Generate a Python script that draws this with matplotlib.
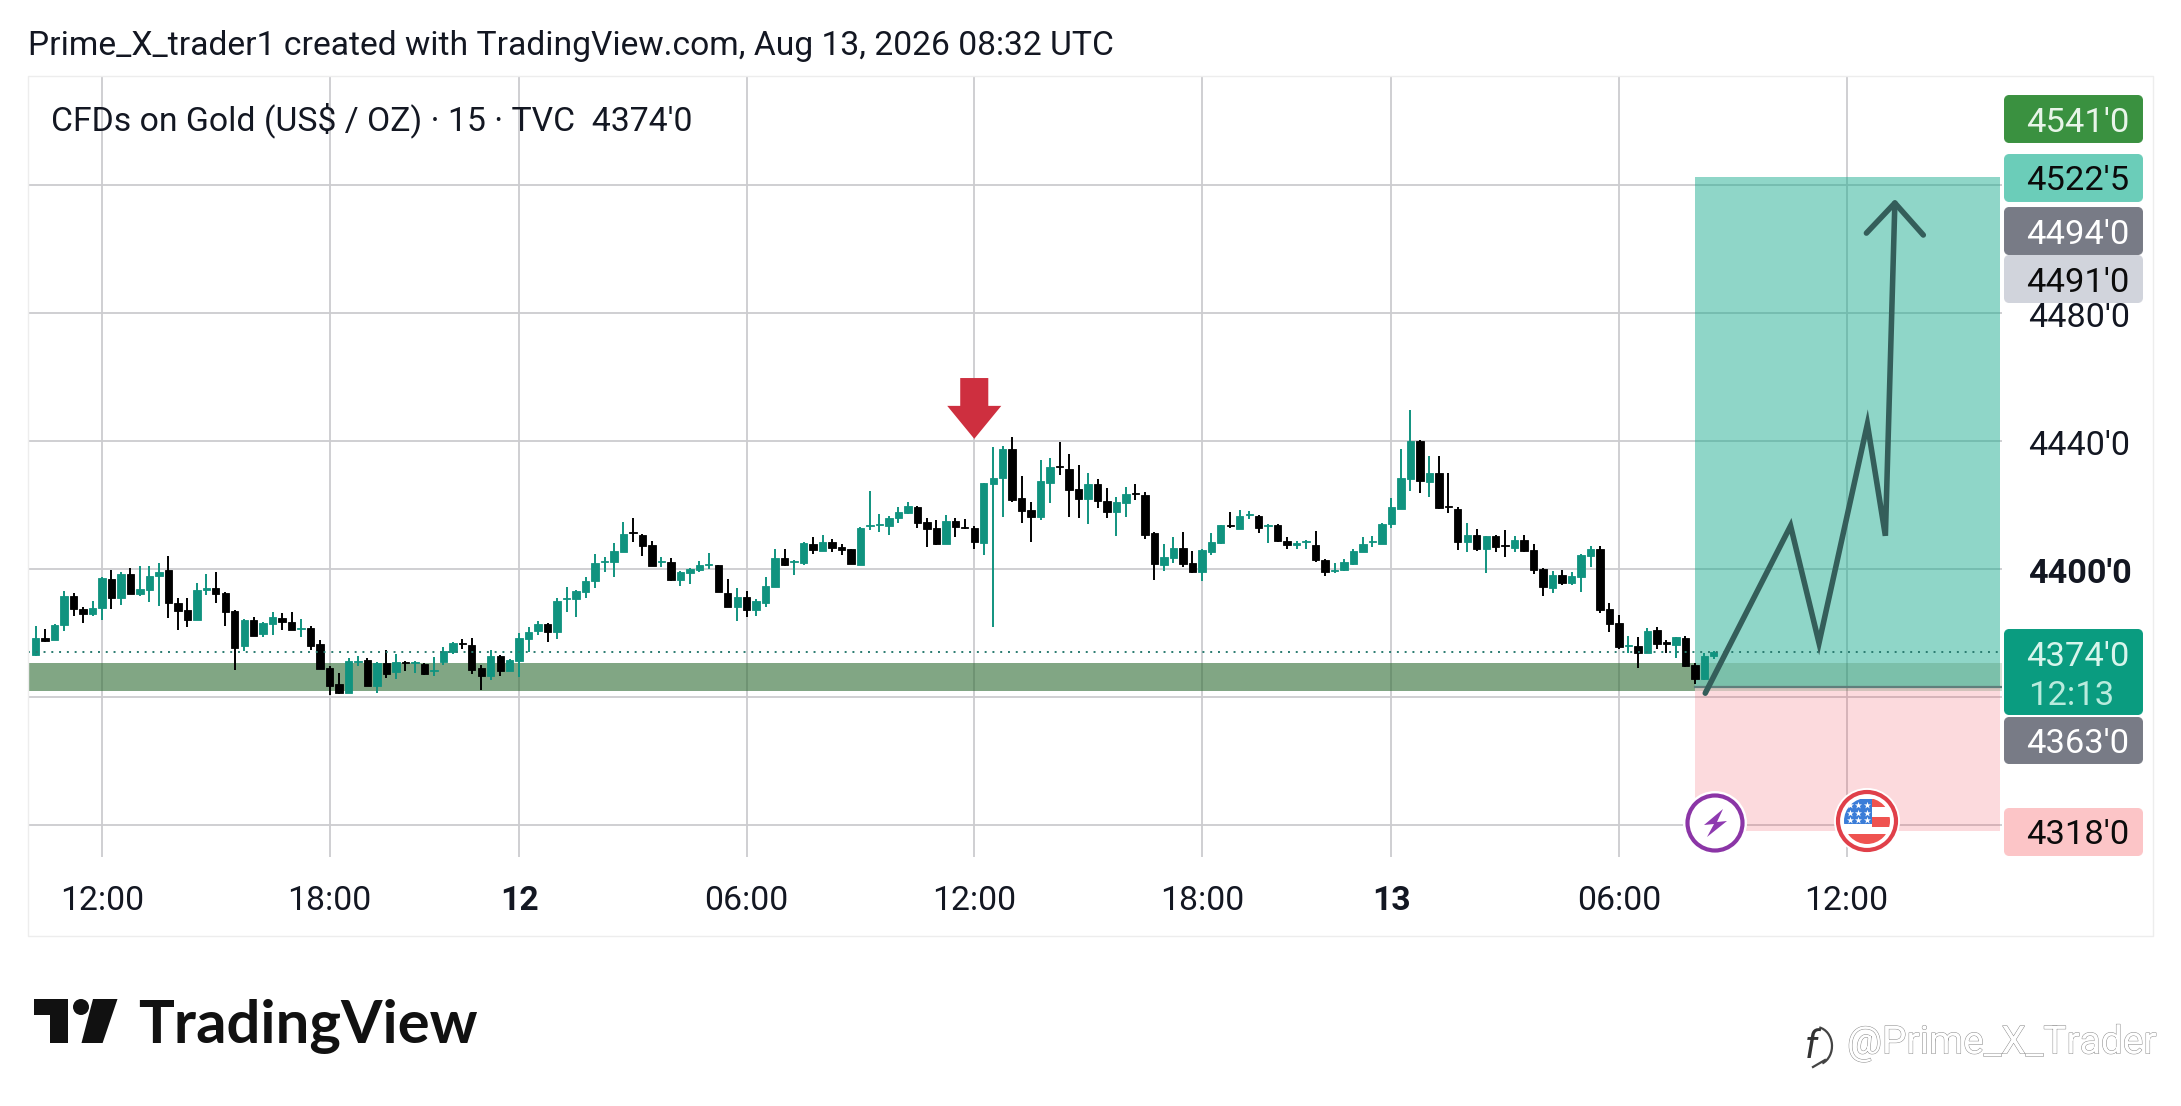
import numpy as np
import matplotlib
matplotlib.use("Agg")
import matplotlib.pyplot as plt
import matplotlib.patheffects as pe
from matplotlib.patches import Polygon, Rectangle, Circle, FancyBboxPatch, Arc
from matplotlib.transforms import ScaledTranslation

plt.rcParams['font.family'] = ['Roboto', 'DejaVu Sans']

# 15 min bars, bar 0 is 12:00 on the 11th (the daily close gap is already left out)
bar_index = np.arange(-7, 171)

opens = [
    4372.9, 4378.3, 4377.6, 4382.3, 4391.5, 4387.3, 4385.9, 4387.6, 4396.8, 4391.0,
    4398.3, 4392.2, 4393.5, 4397.6, 4399.6, 4389.3, 4387.1, 4383.9, 4393.3, 4394.0,
    4392.4, 4386.9, 4375.7, 4384.1, 4379.5, 4382.8, 4384.6, 4383.3, 4381.1, 4381.6,
    4376.5, 4369.1, 4364.0, 4361.3, 4371.0, 4371.5, 4363.5, 4370.5, 4367.6, 4370.8,
    4370.4, 4370.3, 4368.1, 4370.9, 4373.9, 4376.7, 4376.1, 4369.1, 4366.4, 4372.8,
    4367.9, 4371.2, 4378.1, 4380.6, 4382.8, 4380.3, 4390.5, 4390.4, 4392.7, 4396.2,
    4402.2, 4402.0, 4405.1, 4411.6, 4410.6, 4407.4, 4402.1, 4402.1, 4396.6, 4398.7,
    4399.5, 4401.1, 4401.2, 4392.4, 4387.9, 4391.2, 4387.0, 4389.4, 4394.4, 4403.3,
    4402.1, 4401.9, 4407.7, 4405.6, 4408.4, 4406.9, 4406.1, 4401.3, 4413.2, 4413.7,
    4413.5, 4415.7, 4417.5, 4419.4, 4414.6, 4412.8, 4407.8, 4415.0, 4413.1, 4412.8,
    4408.1, 4426.6, 4428.2, 4437.5, 4422.2, 4418.4, 4416.2, 4426.9, 4432.1, 4431.2,
    4425.0, 4421.9, 4426.6, 4421.2, 4417.8, 4420.6, 4423.6, 4423.1, 4411.1, 4401.2,
    4403.4, 4406.6, 4401.9, 4399.1, 4405.3, 4408.1, 4413.6, 4412.5, 4416.7, 4416.6,
    4413.4, 4413.7, 4408.7, 4407.5, 4408.4, 4407.5, 4402.8, 4399.3, 4399.5, 4401.6,
    4405.3, 4408.2, 4407.8, 4414.1, 4418.8, 4428.1, 4440.0, 4427.2, 4430.0, 4419.6,
    4418.8, 4408.2, 4410.6, 4406.3, 4410.3, 4407.5, 4406.5, 4409.0, 4405.9, 4400.0,
    4394.0, 4398.1, 4395.6, 4397.5, 4404.0, 4406.2, 4387.5, 4383.1, 4375.7, 4375.9,
    4373.7, 4380.9, 4377.0, 4376.2, 4378.4, 4370.0, 4365.6, 4372.8,
]
closes = [
    4378.3, 4377.3, 4382.5, 4391.5, 4387.3, 4385.9, 4387.7, 4397.0, 4391.0, 4398.4,
    4392.0, 4393.6, 4397.7, 4399.1, 4389.2, 4386.7, 4383.9, 4393.3, 4394.0, 4392.0,
    4386.4, 4375.1, 4383.9, 4379.1, 4383.0, 4385.0, 4383.2, 4381.0, 4381.5, 4376.0,
    4368.8, 4363.5, 4361.1, 4371.1, 4371.3, 4363.5, 4370.6, 4367.2, 4370.7, 4370.5,
    4370.7, 4367.2, 4368.3, 4374.3, 4376.7, 4376.4, 4368.4, 4366.4, 4372.8, 4367.9,
    4371.5, 4378.4, 4380.3, 4382.8, 4380.3, 4390.0, 4390.8, 4393.1, 4396.1, 4401.8,
    4402.5, 4405.5, 4410.9, 4411.2, 4407.0, 4400.9, 4402.4, 4396.6, 4399.1, 4400.0,
    4401.2, 4401.5, 4392.6, 4387.9, 4391.1, 4387.0, 4390.0, 4394.6, 4403.3, 4401.2,
    4402.5, 4407.9, 4405.9, 4408.3, 4406.4, 4405.7, 4401.6, 4412.8, 4413.6, 4414.1,
    4415.9, 4417.7, 4419.7, 4414.4, 4412.5, 4407.6, 4415.0, 4413.1, 4412.7, 4408.4,
    4426.9, 4428.4, 4437.5, 4421.6, 4418.1, 4416.2, 4427.5, 4431.9, 4431.7, 4424.7,
    4421.9, 4426.6, 4421.2, 4417.8, 4420.9, 4423.4, 4423.2, 4410.6, 4401.6, 4403.7,
    4406.6, 4401.6, 4399.1, 4405.9, 4408.4, 4413.7, 4413.2, 4416.4, 4417.1, 4412.8,
    4413.7, 4408.7, 4407.4, 4407.9, 4408.7, 4402.8, 4399.1, 4399.7, 4402.2, 4405.6,
    4407.8, 4408.7, 4414.1, 4419.4, 4428.4, 4440.0, 4427.5, 4430.0, 4419.1, 4419.2,
    4408.2, 4410.4, 4406.2, 4410.3, 4406.8, 4407.1, 4409.0, 4405.6, 4399.7, 4394.3,
    4398.1, 4395.6, 4397.8, 4404.3, 4406.2, 4387.2, 4382.8, 4375.6, 4376.1, 4373.7,
    4380.6, 4376.5, 4376.6, 4378.7, 4369.6, 4365.6, 4372.8, 4374.0,
]
highs = [
    4382.0, 4381.1, 4382.8, 4393.1, 4392.4, 4388.0, 4389.9, 4397.4, 4399.7, 4398.9,
    4400.2, 4400.9, 4400.9, 4401.8, 4404.1, 4390.8, 4390.8, 4395.5, 4398.4, 4399.0,
    4392.7, 4387.2, 4384.3, 4384.9, 4383.3, 4386.5, 4386.1, 4386.5, 4384.3, 4382.1,
    4377.7, 4369.7, 4367.4, 4372.0, 4372.8, 4372.1, 4370.8, 4374.6, 4373.3, 4371.1,
    4371.1, 4370.5, 4372.4, 4375.5, 4377.1, 4378.0, 4378.3, 4370.0, 4374.6, 4373.0,
    4371.8, 4379.9, 4381.8, 4383.7, 4383.1, 4390.8, 4394.4, 4393.4, 4397.4, 4404.7,
    4403.6, 4408.0, 4414.7, 4415.9, 4410.9, 4408.7, 4403.6, 4403.3, 4399.4, 4400.3,
    4402.5, 4405.0, 4401.2, 4396.9, 4394.0, 4393.1, 4390.6, 4397.5, 4406.2, 4406.2,
    4402.8, 4408.4, 4410.0, 4410.6, 4409.4, 4407.8, 4406.2, 4412.9, 4424.4, 4417.2,
    4416.6, 4419.4, 4420.9, 4419.7, 4415.9, 4415.3, 4416.9, 4415.9, 4415.6, 4413.2,
    4426.9, 4438.1, 4438.4, 4441.2, 4429.1, 4420.9, 4434.1, 4434.7, 4439.7, 4435.9,
    4432.5, 4430.0, 4428.1, 4425.3, 4422.5, 4425.6, 4426.6, 4424.1, 4411.6, 4407.8,
    4410.0, 4411.6, 4405.6, 4406.2, 4411.2, 4413.7, 4417.8, 4418.4, 4418.1, 4416.9,
    4414.1, 4414.1, 4410.0, 4408.7, 4409.1, 4411.9, 4403.1, 4401.9, 4403.1, 4406.2,
    4410.0, 4410.3, 4414.4, 4422.2, 4437.5, 4449.7, 4440.3, 4435.3, 4435.3, 4430.0,
    4419.2, 4414.3, 4412.4, 4410.3, 4410.6, 4412.2, 4410.3, 4410.6, 4407.8, 4400.2,
    4399.3, 4399.7, 4399.0, 4404.7, 4407.2, 4407.2, 4389.3, 4385.6, 4379.0, 4378.7,
    4381.5, 4381.8, 4377.8, 4378.7, 4379.0, 4370.6, 4373.7, 4374.3,
]
lows = [
    4372.6, 4377.0, 4377.6, 4380.4, 4385.1, 4382.9, 4385.1, 4383.9, 4387.5, 4388.7,
    4392.0, 4391.6, 4389.5, 4388.5, 4384.5, 4381.0, 4381.7, 4383.9, 4391.7, 4389.2,
    4382.0, 4368.5, 4374.3, 4378.9, 4378.6, 4379.2, 4381.0, 4381.0, 4378.7, 4374.5,
    4368.8, 4360.4, 4360.7, 4361.1, 4369.6, 4363.5, 4361.3, 4366.0, 4365.6, 4367.9,
    4367.4, 4366.9, 4366.4, 4369.8, 4373.3, 4374.8, 4367.0, 4362.2, 4365.2, 4366.4,
    4367.9, 4366.3, 4373.9, 4379.2, 4377.2, 4378.1, 4386.6, 4385.0, 4390.9, 4394.1,
    4399.1, 4397.5, 4405.1, 4408.4, 4404.1, 4400.9, 4400.5, 4396.2, 4394.7, 4395.3,
    4399.1, 4400.0, 4392.6, 4387.9, 4383.7, 4385.0, 4385.3, 4388.1, 4394.2, 4400.9,
    4398.1, 4401.3, 4404.7, 4405.6, 4405.3, 4404.4, 4401.6, 4401.2, 4412.2, 4411.6,
    4410.6, 4414.4, 4417.2, 4412.8, 4406.9, 4407.5, 4407.8, 4410.0, 4412.5, 4406.2,
    4404.4, 4381.9, 4416.2, 4420.9, 4414.4, 4408.4, 4415.3, 4420.6, 4429.4, 4416.2,
    4415.9, 4414.1, 4419.1, 4415.9, 4410.3, 4416.2, 4421.6, 4409.4, 4396.6, 4399.4,
    4401.9, 4400.6, 4398.7, 4396.2, 4404.4, 4407.8, 4412.8, 4412.5, 4415.6, 4411.2,
    4408.1, 4408.4, 4406.2, 4406.2, 4406.2, 4402.2, 4397.8, 4398.6, 4399.4, 4401.2,
    4405.3, 4406.9, 4407.8, 4412.8, 4418.8, 4424.4, 4423.7, 4422.5, 4418.7, 4417.5,
    4405.9, 4405.3, 4405.6, 4398.7, 4405.3, 4403.7, 4405.3, 4405.3, 4398.4, 4391.5,
    4392.5, 4395.0, 4395.0, 4392.8, 4400.6, 4386.2, 4380.3, 4375.0, 4373.7, 4369.0,
    4373.7, 4375.0, 4373.7, 4372.1, 4369.3, 4364.0, 4365.3, 4371.8,
]

# time axis
time_ticks = [0, 24, 44, 68, 92, 116, 136, 160, 184]
time_labels = ['12:00', '18:00', '12', '06:00', '12:00', '18:00', '13', '06:00', '12:00']
bold_times = ['12', '13']

# price axis
price_ticks = [4320, 4360, 4400, 4440, 4480, 4520]
price_labels = ['', '', "4400'0", "4440'0", "4480'0", '']

# levels and trade drawing
last_price = 4374.0
zone_low, zone_high = 4361.8, 4370.6
entry, target, stop = 4363.0, 4522.5, 4318.0
box_start, box_end = 168.0, 200.2
path_x = [169.1, 178.1, 181.1, 186.2, 188.1, 189.1]
path_y = [4361.1, 4413.4, 4376.8, 4445.2, 4410.3, 4514.3]
wing_x = [186.1, 189.1, 192.1]
wing_y = [4504.9, 4514.3, 4504.3]
sell_bar = 92

# pills on the price axis: text, top px, bottom px, fill, text colour
pill_text = ["4541'0", "4522'5", "4494'0", "4491'0", "4363'0", "4318'0"]
pill_top = [95, 154, 207, 255, 717, 808]
pill_bottom = [143, 202, 255, 303, 764, 856]
pill_fill = ['#3A9140', '#6BCDB9', '#787B86', '#D1D4DC', '#787B86', '#FCC5C7']
pill_color = ['#E8F5E9', '#0B0B0B', '#FFFFFF', '#0B0B0B', '#FFFFFF', '#0B0B0B']

W, H = 2181, 1106
fig = plt.figure(figsize=(W / 100, H / 100), dpi=100, facecolor='white')

x_left, x_right = -7.806, 200.4
ax = fig.add_axes([28 / W, 1 - 857 / H, (2002 - 28) / W, (857 - 76) / H])
ax.set_xlim(x_left, x_right)
ax.set_ylim(4309.9, 4554.0)
for s in ax.spines.values():
    s.set_visible(False)

grid_c = '#CCCCCF'
ax.vlines(time_ticks, 4309.9, 4554.0, color=grid_c, lw=1.3, zorder=0.5)
ax.hlines(price_ticks, x_left, x_right, color=grid_c, lw=1.3, zorder=0.5)

ax.set_xticks(time_ticks)
ax.set_xticklabels(time_labels, fontsize=24.3, color='#131722')
for lab in ax.get_xticklabels():
    if lab.get_text() in bold_times:
        lab.set_fontweight('bold')
ax.tick_params(axis='x', length=0, pad=20)
ax.yaxis.tick_right()
ax.set_yticks(price_ticks)
ax.set_yticklabels(price_labels, fontsize=24.6, color='#131722')
ax.tick_params(axis='y', length=0, pad=18.5)
down_1px = ScaledTranslation(0, -1.5 / 100, fig.dpi_scale_trans)
for lab in ax.get_yticklabels():
    lab.set_transform(lab.get_transform() + down_1px)
    if lab.get_text() == "4400'0":
        lab.set_fontweight('bold')

# long position box
ax.add_patch(Rectangle((box_start, entry), box_end - box_start, target - entry,
                       fc='#11A88A', alpha=0.47, lw=0, zorder=1))
ax.add_patch(Rectangle((box_start, stop), box_end - box_start, entry - stop,
                       fc='#F23645', alpha=0.18, lw=0, zorder=1))
# support zone, much weaker where it runs through the box
ax.add_patch(Rectangle((x_left, zone_low), box_start - x_left, zone_high - zone_low,
                       fc='#2E6B33', alpha=0.6, lw=0, zorder=1.5))
ax.add_patch(Rectangle((box_start, zone_low), x_right - box_start, zone_high - zone_low,
                       fc='#2E6B33', alpha=0.2, lw=0, zorder=1.5))
ax.plot([box_start, x_right], [entry, entry], color='#5F7F7C', lw=1.6, zorder=1.6)

# candles
up_c, down_c = '#10937F', '#000000'
colors = [up_c if c >= o else down_c for o, c in zip(opens, closes)]
bottoms = np.minimum(opens, closes)
heights = np.abs(np.array(closes) - np.array(opens))
ax.vlines(bar_index, lows, highs, colors=colors, lw=1.4, zorder=3)
ax.bar(bar_index, heights, bottom=bottoms, width=0.78, color=colors,
       edgecolor=colors, linewidth=0.6, zorder=3.1)

ax.hlines(last_price, x_left, x_right, color='#2A7B70', lw=1.4, linestyles=(0, (1, 3)), zorder=3.2)

# hand drawn path
ax.plot(path_x, path_y, color='#345E5A', lw=4.0, solid_capstyle='round', solid_joinstyle='miter', zorder=4)
ax.plot(wing_x, wing_y, color='#345E5A', lw=4.0, solid_capstyle='round', zorder=4)

# red sell arrow
ax.add_patch(Polygon([(sell_bar - 1.48, 4459.6), (sell_bar + 1.48, 4459.6), (sell_bar + 1.48, 4450.9),
                      (sell_bar + 2.85, 4450.9), (sell_bar, 4440.6), (sell_bar - 2.85, 4450.9),
                      (sell_bar - 1.48, 4450.9)], closed=True, fc='#CE2F3F', ec='none', zorder=5))

# overlay in pixel coordinates for frame, pills, logo and icons
ov = fig.add_axes([0, 0, 1, 1], zorder=10)
ov.set_xlim(0, W)
ov.set_ylim(H, 0)
ov.axis('off')
ov.patch.set_alpha(0)
ov.add_patch(Rectangle((28, 76), 2153 - 28, 936 - 76, fc='none', ec='#EDEDED', lw=1.0))

ov.text(28, 46, "Prime_X_trader1 created with TradingView.com, Aug 13, 2026 08:32 UTC",
        fontsize=24.2, color='#131722', va='center', ha='left')
ov.text(51, 120, "CFDs on Gold (US$ / OZ) \u00b7 15 \u00b7 TVC  4374'0",
        fontsize=24.3, color='#131722', va='center', ha='left')

for txt, top, bot, fill, col in zip(pill_text, pill_top, pill_bottom, pill_fill, pill_color):
    ov.add_patch(FancyBboxPatch((2004.5, top + 0.5), 138, bot - top - 1, boxstyle='round,pad=0,rounding_size=5',
                                fc=fill, ec=fill, lw=0.7))
    ov.text(2129, (top + bot) / 2 + 3.5, txt, fontsize=24.8, color=col, ha='right', va='center')

# current price pill
ov.add_patch(FancyBboxPatch((2004.5, 629.5), 138, 85, boxstyle='round,pad=0,rounding_size=5',
                            fc='#0A9C80', ec='#0A9C80', lw=0.7))
ov.text(2129, 657, "4374'0", fontsize=24.8, color='#D8F5EC', ha='right', va='center')
ov.text(2028, 696, "12:13", fontsize=24.8, color='#B9EBDD', ha='left', va='center')

# lightning icon
ov.add_patch(Circle((1715, 823), 32, fc='white', ec='none'))
ov.add_patch(Circle((1715, 823), 27.5, fc='white', ec='#8B35A6', lw=3.0))
ov.add_patch(Polygon([(1723, 809), (1704, 825), (1714, 824), (1707, 837), (1727, 821), (1717, 822)],
                     closed=True, fc='#8E3AB0', ec='none'))

# flag icon
ov.add_patch(Circle((1867, 821), 33, fc='white', ec='none'))
ov.add_patch(Circle((1867, 821), 29, fc='white', ec='#E0404A', lw=3.0))
clip = Circle((1867, 821), 23, transform=ov.transData)
flag_parts = [Rectangle((1843, 799), 29, 25, fc='#3B7DD8', ec='none'),
              Rectangle((1872, 799), 20, 8, fc='#EF5350', ec='none'),
              Rectangle((1872, 817), 20, 10, fc='#EF5350', ec='none'),
              Rectangle((1843, 834), 50, 10, fc='#EF5350', ec='none')]
for part in flag_parts:
    ov.add_patch(part)
    part.set_clip_path(clip)
ov.scatter([1850, 1858, 1867] * 3, [805] * 3 + [813] * 3 + [820] * 3, marker='*', s=28, c='white', lw=0)

# tradingview logo
logo_c = '#111111'
ov.add_patch(Polygon([(33.5, 999), (67.7, 999), (67.7, 1043), (50, 1043), (50, 1015), (33.5, 1015)],
                     closed=True, fc=logo_c, ec='none'))
ov.add_patch(Circle((81, 1007), 8, fc=logo_c, ec='none'))
ov.add_patch(Polygon([(93, 999), (117.5, 999), (102.6, 1043), (81.5, 1043)], closed=True, fc=logo_c, ec='none'))
ov.text(138, 1043, "TradingView", fontsize=43, family=['Lato', 'DejaVu Sans'], fontweight='bold',
        color=logo_c, ha='left', va='baseline')

# embossed watermark
mark = ov.text(1847, 1043, "@Prime_X_Trader", fontsize=28, color='white', ha='left', va='center')
mark.set_path_effects([pe.Stroke(linewidth=0.7, foreground='#8A8A8A'), pe.Normal()])
ov.text(1811, 1047, "f", fontsize=28, style='italic', color='#333333', ha='center', va='center')
ov.add_patch(Arc((1816, 1046), 32, 38, theta1=-80, theta2=70, color='#444444', lw=1.6))
ov.plot([1813, 1825], [1067, 1060], color='#444444', lw=1.6)

fig.savefig('out.png', dpi=100, facecolor='white')
